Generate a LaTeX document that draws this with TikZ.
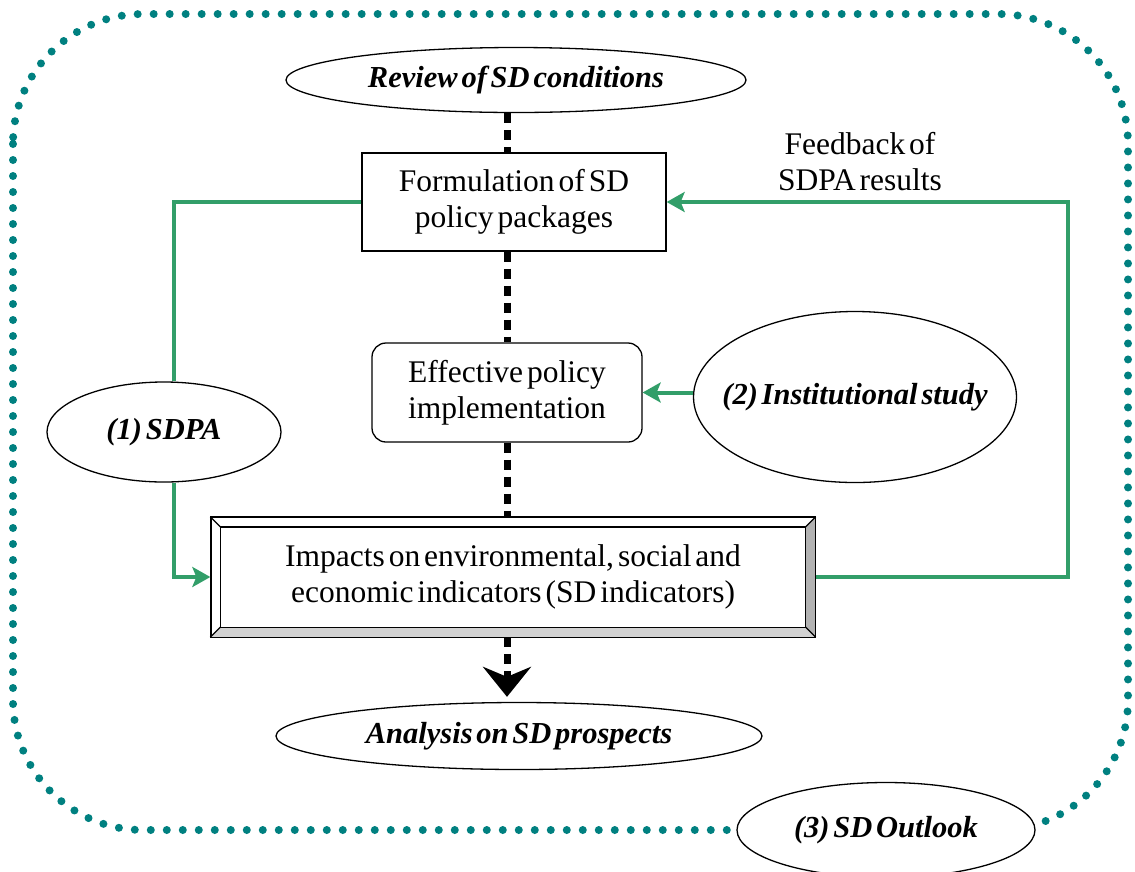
\documentclass[tikz,border=0pt]{standalone}
\usepackage{fontspec}
\setmainfont[WordSpace=0.5]{Liberation Serif}
\usetikzlibrary{shapes.geometric,arrows.meta,calc}
\definecolor{tealdot}{RGB}{0,128,128}
\definecolor{grn}{RGB}{50,158,105}
\begin{document}
\begin{tikzpicture}[x=1pt,y=-1pt,
  txt/.style={font=\fontsize{31.5}{36}\selectfont, align=center},
  bi/.style={font=\fontsize{30.5}{34}\selectfont\bfseries\itshape},
  ell/.style={ellipse, draw, line width=1.3pt, fill=white, inner sep=0pt},
  box/.style={draw, line width=1.3pt, fill=white, inner sep=0pt, txt},
  dots/.style={line width=7pt, dash pattern=on 10pt off 7pt},
  gline/.style={draw=grn, line width=4pt},
  garrow/.style={gline, -{Stealth[length=18pt,width=20pt,inset=4pt]}}
]
\useasboundingbox (0,0) rectangle (1135,871);
\draw[tealdot, line width=8pt, line cap=round, dash pattern=on 0pt off 16pt, rounded corners=130pt] (13,14) rectangle (1128,830);

\node[ell, bi, minimum width=460pt, minimum height=65pt] (review) at (516,80) {\makebox[0pt]{Review of SD conditions}};
\node[box, minimum width=304pt, minimum height=98pt] (form) at (514,202) {Formulation of SD\\policy packages};
\node[box, rounded corners=14pt, minimum width=270pt, minimum height=99pt] (eff) at (507,392.5) {Effective policy\\implementation};
\node[ell, bi, minimum width=323pt, minimum height=171pt] (inst) at (855,397) {\raisebox{7pt}{\makebox[0pt]{(2) Institutional study}}};
\node[ell, bi, minimum width=234pt, minimum height=100pt] (sdpa) at (164,432) {\makebox[0pt]{(1) SDPA}};
\node[box, minimum width=604pt, minimum height=119pt] (big) at (513,577) {Impacts on environmental, social and\\economic indicators (SD indicators)};
\node[ell, bi, minimum width=486pt, minimum height=67pt] (anal) at (519,736) {\makebox[0pt]{Analysis on SD prospects}};
\node[ell, bi, minimum width=298pt, minimum height=95pt] (outl) at (886,830) {\makebox[0pt]{(3) SD Outlook}};
\node[txt] (fbl) at (860,162) {Feedback of\\SDPA results};

% bevel of the impacts box
\fill[gray!35] (big.south west) -- (big.south east) -- ($(big.south east)+(-10,-10)$) -- ($(big.south west)+(10,-10)$) -- cycle;
\fill[gray!60] (big.south east) -- (big.north east) -- ($(big.north east)+(-10,10)$) -- ($(big.south east)+(-10,-10)$) -- cycle;
\draw[line width=1.3pt] (big.north west) rectangle (big.south east);
\draw[line width=1.3pt] ($(big.north west)+(10,10)$) rectangle ($(big.south east)+(-10,-10)$);
\draw[line width=1.3pt] (big.north west) -- ($(big.north west)+(10,10)$)
  (big.north east) -- ($(big.north east)+(-10,10)$)
  (big.south west) -- ($(big.south west)+(10,-10)$)
  (big.south east) -- ($(big.south east)+(-10,-10)$);

% green connectors
\coordinate (fb) at (1068,202);
\draw[gline] (form.west) -| ($(sdpa.north)+(10,0)$);
\draw[garrow] ($(sdpa.south)+(10,0)$) |- (big.west);
\draw[garrow] (big.east) -| (fb) -- (form.east);
\draw[garrow] (inst.west |- eff.east) -- (eff.east);

% black dotted spine
\draw[dots] (eff.north |- review.south) -- (eff.north |- form.north);
\draw[dots] (eff.north |- form.south) -- (eff.north);
\draw[dots] (eff.south) -- (eff.south |- big.north);
\draw[dots, -{Stealth[length=30pt,width=48pt,inset=10pt]}] (eff.south |- big.south) -- ($(eff.south |- anal.north)+(0,-5)$);
\end{tikzpicture}
\end{document}
